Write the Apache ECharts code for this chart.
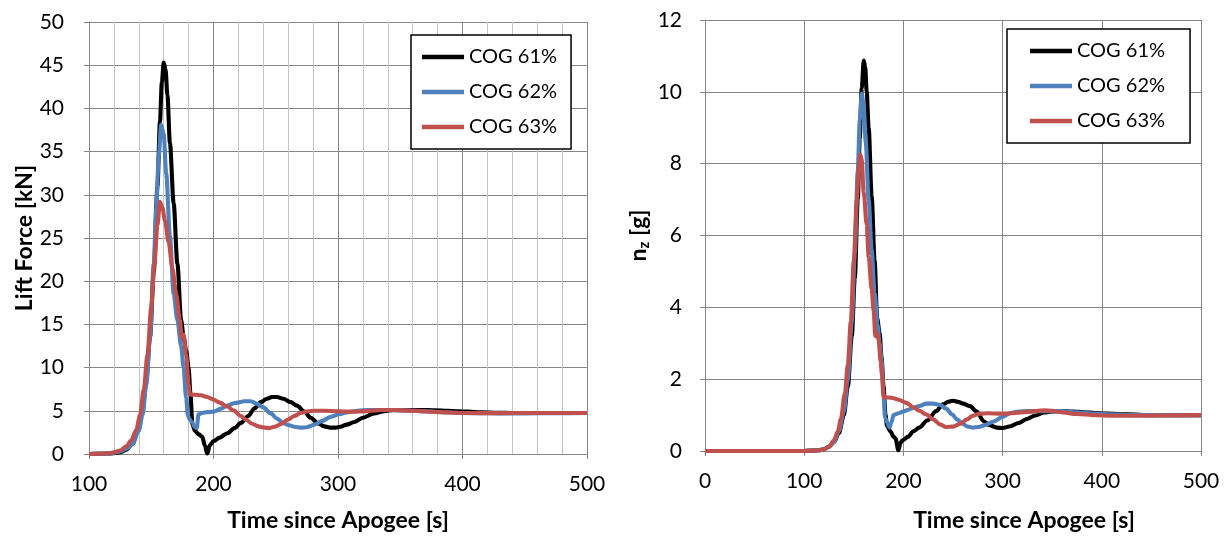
<!DOCTYPE html>
<html>
<head>
<meta charset="utf-8">
<script src="https://cdn.jsdelivr.net/npm/echarts@6/dist/echarts.min.js"></script>
<style>
    html, body { margin: 0; padding: 0; background: #fff; }
    #main { width: 1228px; height: 537px; }
</style>
</head>
<body>
<div id="main"></div>
<script>
// series names
var seriesNames = ['COG 61%', 'COG 62%', 'COG 63%'];
var seriesColors = ['#000000', '#4F81BD', '#C0504D'];

// left chart: lift force [kN] vs time since apogee [s]
var liftT61 = [100,115,120,125,130,135,140,143,146,149,152,155,157,158.5,160,161.5,163,165,168,171,174,176,178,180,181.5,183,185,188,191,193,195,197,200,205,211,217,222,228,233,238,243,247,251,256,262,267,273,278,284,289,294,298,302,307,313,320,329,337,345,355,367,378,388,397,404,415,428,440,460,480,500];
var liftV61 = [0,0.05,0.1,0.2,0.5,1.2,3.0,5,8.5,13.5,21,31,38.5,43,45.3,44.5,41.5,36,29,22,15.5,13.5,12,10,7,3.5,2.7,2.3,2.0,1.0,0.05,1.0,1.5,1.9,2.4,3.0,3.6,4.4,5.3,6.0,6.4,6.6,6.6,6.4,6.0,5.6,4.9,4.2,3.55,3.2,3.05,3.05,3.15,3.4,3.7,4.2,4.7,4.95,5.1,5.1,5.1,5.05,5.0,4.95,4.9,4.83,4.77,4.75,4.75,4.75,4.75];

var liftT62 = [100,115,120,125,130,135,140,143,146,149,152,154,156,158,160,162,165,168,171,174,176,178,179.5,181,183,185,186.5,188,191,195,200,206,211,217,225,230,235,240,246,251,256,260,265,270,275,281,287,294,301,308,316,324,332,340,350,361,375,388,400,415,430,450,475,500];
var liftV62 = [0,0.05,0.15,0.3,0.6,1.2,2.7,4.5,8,13.5,22,28.5,34.5,38.1,37,32.5,25.2,18.5,15.5,12.5,10,6.5,4.4,4.0,3.6,3.1,3.0,4.6,4.75,4.85,4.9,5.25,5.6,5.9,6.1,6.1,5.8,5.4,4.7,4.1,3.6,3.35,3.15,3.05,3.1,3.4,3.8,4.3,4.6,4.85,5.0,5.1,5.1,5.1,5.05,5.0,4.92,4.8,4.75,4.72,4.7,4.7,4.72,4.75];

var liftT63 = [100,115,120,125,130,134,138,141,144,147,150,152.5,155,157,159,161,164,167,170,173,174.5,176,178,180,181,185,190,195,200,205,211,216,222,226,231,236,241,245,249,254,260,265,270,276,281,290,300,310,318,326,335,345,353,361,370,380,390,400,415,430,450,475,500];
var liftV63 = [0,0.05,0.2,0.4,0.9,1.6,2.8,4.5,7.5,11.5,17,22,26.5,29.2,28.5,27,24.5,21.5,18.5,15.5,13.5,13.8,11.5,8,6.9,6.85,6.8,6.6,6.3,5.95,5.5,5.05,4.4,4.0,3.5,3.2,3.05,3.0,3.15,3.45,4.0,4.4,4.75,4.95,5.0,5.0,4.95,4.9,4.92,5.0,5.1,5.1,5.05,5.0,4.92,4.85,4.8,4.75,4.73,4.73,4.75,4.75,4.75];

// right chart: load factor n_z [g] vs time since apogee [s]
var nzT61 = [0,100,115,120,125,130,135,140,144,148,151,154,156,158,160,161.5,163,165,168,171,173.5,176,178,180,182,183.5,187,190,192,195,197,199,205,210,216,224,233,240,245,250,255,260,267,274,281,287,294,300,308,316,325,333,342,350,359,370,382,393,405,426,450,475,500];
var nzV61 = [0,0,0.02,0.05,0.12,0.25,0.5,1.0,1.8,3.2,4.8,7.0,8.7,10.1,10.87,10.7,10.0,9.0,7.1,5.3,3.7,3.3,2.6,1.8,1.0,0.7,0.55,0.4,0.35,0.02,0.22,0.3,0.4,0.55,0.65,0.85,1.11,1.3,1.37,1.4,1.37,1.32,1.25,1.1,0.83,0.72,0.65,0.64,0.69,0.78,0.9,0.99,1.07,1.1,1.11,1.1,1.08,1.06,1.04,1.02,1.0,1.0,1.0];

var nzT62 = [0,100,115,120,125,130,135,140,144,148,151,154,156,158,160,162,165,168,171,174,176,178,180,181.5,183.5,186,188,190,195,200,205,210,216,223,230,237,243,249,254,260,265,270,276,282,291,300,308,316,325,340,359,375,393,410,430,460,500];
var nzV62 = [0,0,0.02,0.05,0.12,0.25,0.55,1.1,2.0,3.6,5.5,7.8,9.2,9.95,9.6,8.6,7.0,5.6,4.4,3.5,3.0,2.5,1.6,0.93,0.8,0.65,0.8,1.0,1.05,1.1,1.15,1.2,1.25,1.32,1.32,1.28,1.18,1.02,0.88,0.75,0.68,0.65,0.67,0.72,0.82,0.95,1.06,1.1,1.11,1.11,1.11,1.08,1.04,1.02,1.0,1.0,1.0];

var nzT63 = [0,100,115,120,125,130,134,137,141,144,147,150,153,155,156.6,158,160,163,165,168,170,171.7,173,175,177,178.5,180,185,190,196,203,210,216,223,230,237,243,250,257,264,270,277,285,298,310,325,342,350,359,375,393,410,430,460,500];
var nzV63 = [0,0,0.02,0.05,0.12,0.3,0.55,0.9,1.6,2.4,3.6,5.3,7.0,7.9,8.25,8.1,7.2,6.3,5.4,4.5,3.9,3.2,3.3,3.1,2.5,2.1,1.5,1.49,1.47,1.42,1.34,1.22,1.12,1.02,0.88,0.74,0.67,0.68,0.75,0.88,0.98,1.04,1.05,1.04,1.05,1.09,1.13,1.12,1.08,1.03,1.0,0.98,0.98,0.99,1.0];

function zip(t, v) {
    var out = [];
    for (var i = 0; i < t.length; i++) out.push([t[i], v[i]]);
    return out;
}

var font = 'Lato';
var gridColor = '#878787';
var titleStyle = { color: '#000', fontFamily: font, fontSize: 23, fontWeight: 'bold' };

function xAxisFor(idx, min, minor, gap, pad) {
    return {
        type: 'value', gridIndex: idx, min: min, max: 500, interval: 100,
        axisLine: { show: true, onZero: false, lineStyle: { color: gridColor, width: 1 } },
        axisTick: { show: true, length: 5, lineStyle: { color: gridColor } },
        axisLabel: { color: '#000', fontFamily: font, fontSize: 21, margin: 20 },
        splitLine: { show: true, lineStyle: { color: gridColor, width: 1 } },
        minorTick: { show: false, splitNumber: 5 },
        minorSplitLine: { show: minor, lineStyle: { color: '#c4c4c4', width: 1 } },
        name: 'Time since Apogee [s]',
        nameLocation: 'middle',
        nameGap: gap,
        nameTextStyle: Object.assign({ padding: pad }, titleStyle)
    };
}

function yAxisFor(idx, max, interval, name, gap, margin) {
    return {
        type: 'value', gridIndex: idx, min: 0, max: max, interval: interval,
        axisLine: { show: true, lineStyle: { color: gridColor, width: 1 } },
        axisTick: { show: true, length: 5, lineStyle: { color: gridColor } },
        axisLabel: { color: '#000', fontFamily: font, fontSize: 21, margin: margin },
        splitLine: { show: true, lineStyle: { color: gridColor, width: 1 } },
        name: name,
        nameLocation: 'middle',
        nameGap: gap,
        nameTextStyle: Object.assign({
            rich: {
                b: titleStyle,
                sub: { color: '#000', fontFamily: font, fontSize: 15, fontWeight: 'bold', padding: [12, 0, 0, 0] }
            }
        }, titleStyle)
    };
}

function legendFor(names, left, top, pad) {
    return {
        data: names,
        orient: 'vertical',
        left: left, top: top,
        icon: 'rect',
        itemWidth: 42, itemHeight: 4.5, itemGap: 15, itemTextGap: 3,
        padding: pad,
        borderColor: '#000', borderWidth: 1.5,
        backgroundColor: '#fff',
        formatter: function (n) { return n.trim(); },
        textStyle: { color: '#000', fontFamily: font, fontSize: 20 }
    };
}

var liftData = [zip(liftT61, liftV61), zip(liftT62, liftV62), zip(liftT63, liftV63)];
var nzData = [zip(nzT61, nzV61), zip(nzT62, nzV62), zip(nzT63, nzV63)];
var nzNames = seriesNames.map(function (n) { return n + ' '; });

var series = [];
seriesNames.forEach(function (n, i) {
    series.push({
        name: n, type: 'line', xAxisIndex: 0, yAxisIndex: 0,
        data: liftData[i], showSymbol: false, symbol: 'none',
        smooth: 0.3, smoothMonotone: 'x',
        lineStyle: { color: seriesColors[i], width: 4.1 },
        itemStyle: { color: seriesColors[i] }
    });
});
nzNames.forEach(function (n, i) {
    series.push({
        name: n, type: 'line', xAxisIndex: 1, yAxisIndex: 1,
        data: nzData[i], showSymbol: false, symbol: 'none',
        smooth: 0.3, smoothMonotone: 'x',
        lineStyle: { color: seriesColors[i], width: 4.1 },
        itemStyle: { color: seriesColors[i] }
    });
});

var chartDom = document.getElementById('main');
var myChart = echarts.init(chartDom, null, { renderer: 'canvas' });
var option = {
    animation: false,
    backgroundColor: '#fff',
    grid: [
        { left: 89, right: 641, top: 22, bottom: 81 },
        { left: 705, right: 27, top: 20, bottom: 83 }
    ],
    legend: [
        legendFor(seriesNames, 411, 35, [12, 14, 12, 11]),
        legendFor(nzNames, 1007, 29, [12, 25, 12, 23])
    ],
    xAxis: [
        xAxisFor(0, 100, true, 55, 0),
        xAxisFor(1, 0, false, 58, [0, 0, 0, 142])
    ],
    yAxis: [
        yAxisFor(0, 50, 5, 'Lift Force [kN]', 52, 25),
        yAxisFor(1, 12, 2, '{b|n}{sub|z}{b| [g]}', 53, 23)
    ],
    series: series
};

option && myChart.setOption(option);
</script>
</body>
</html>
